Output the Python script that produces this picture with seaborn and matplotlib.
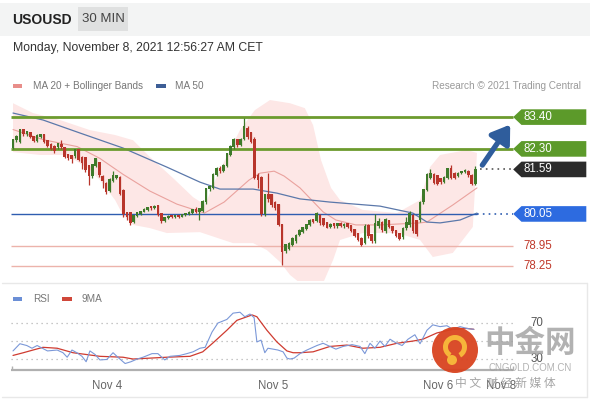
import numpy as np
import pandas as pd
import seaborn as sns
import matplotlib.pyplot as plt
from matplotlib.patches import Polygon, Circle, Wedge, Rectangle

# 30 min candles, oldest first
opens = [82.33, 82.60, 82.55, 82.95, 82.80, 82.85, 82.72, 82.58, 82.72, 82.78,
         82.58, 82.45, 82.38, 82.35, 82.45, 82.32, 82.10, 82.05, 82.05, 82.25,
         82.00, 82.00, 81.70, 81.35, 81.72, 81.80, 81.32, 81.10, 80.85, 81.20,
         81.30, 81.30, 80.85, 80.08, 80.08, 79.78, 79.98, 80.05, 80.12, 80.18,
         80.28, 80.24, 80.32, 80.05, 79.82, 79.90, 79.98, 79.94, 80.00, 79.96,
         80.00, 80.04, 80.08, 80.20, 80.12, 80.15, 80.45, 80.90, 80.95, 81.38,
         81.62, 81.55, 81.72, 82.10, 82.35, 82.60, 82.42, 82.65, 83.00, 82.85,
         82.62, 81.35, 81.30, 80.05, 80.70, 80.70, 80.45, 80.36, 79.67, 78.78,
         78.85, 78.98, 79.10, 79.32, 79.42, 79.52, 79.66, 79.84, 79.80, 80.00,
         79.88, 79.74, 79.60, 79.70, 79.62, 79.72, 79.62, 79.70, 79.62, 79.50,
         79.35, 79.20, 79.05, 79.65, 79.32, 79.10, 79.62, 79.75, 79.45, 79.80,
         79.60, 79.46, 79.35, 79.25, 79.55, 79.65, 80.00, 79.80, 79.84, 80.45,
         80.88, 81.30, 81.40, 81.35, 81.25, 81.15, 81.30, 81.60, 81.45, 81.35,
         81.45, 81.50, 81.52, 81.38, 81.10]
highs = [82.65, 82.78, 83.00, 82.98, 82.92, 82.88, 82.76, 82.80, 82.82, 82.82,
         82.62, 82.50, 82.45, 82.52, 82.62, 82.38, 82.12, 82.08, 82.30, 82.28,
         82.05, 82.02, 81.72, 81.78, 82.00, 81.85, 81.38, 81.15, 81.28, 81.52,
         81.40, 81.35, 80.90, 80.12, 80.12, 80.02, 80.12, 80.15, 80.24, 80.30,
         80.32, 80.36, 80.35, 80.08, 79.95, 80.00, 80.02, 80.03, 80.03, 80.05,
         80.08, 80.14, 80.22, 80.30, 80.26, 80.52, 80.96, 81.05, 81.45, 81.68,
         81.70, 81.78, 82.16, 82.42, 82.66, 82.64, 82.68, 83.38, 83.10, 82.90,
         82.70, 81.45, 81.35, 80.75, 81.46, 80.75, 80.50, 80.40, 79.70, 79.02,
         79.08, 79.24, 79.35, 79.52, 79.60, 79.70, 79.86, 79.88, 80.10, 80.04,
         79.92, 79.78, 79.72, 79.74, 79.74, 79.76, 79.72, 79.74, 79.66, 79.54,
         79.38, 79.24, 79.70, 79.70, 79.36, 80.05, 79.92, 79.80, 79.90, 79.84,
         79.64, 79.50, 79.40, 79.60, 79.95, 80.15, 80.05, 79.85, 80.50, 80.92,
         81.45, 81.60, 81.45, 81.40, 81.30, 81.35, 81.64, 81.75, 81.50, 81.50,
         81.54, 81.60, 81.56, 81.42, 81.70]
lows = [82.28, 82.55, 82.50, 82.75, 82.76, 82.66, 82.55, 82.55, 82.68, 82.52,
        82.36, 82.25, 82.15, 82.30, 82.30, 81.98, 81.92, 81.80, 82.00, 81.88,
        81.62, 81.50, 81.05, 81.30, 81.68, 81.32, 80.95, 80.75, 80.80, 81.15,
        81.25, 80.70, 79.95, 79.85, 79.65, 79.75, 79.95, 80.02, 80.10, 80.15,
        80.20, 80.22, 79.98, 79.75, 79.78, 79.86, 79.90, 79.90, 79.92, 79.93,
        79.97, 80.01, 80.05, 80.08, 79.85, 80.12, 80.40, 80.85, 80.92, 81.35,
        81.48, 81.50, 81.68, 82.05, 82.30, 82.38, 82.40, 82.60, 82.65, 82.50,
        81.25, 80.95, 79.98, 79.98, 80.48, 80.30, 80.20, 79.62, 78.28, 78.70,
        78.80, 78.95, 79.05, 79.28, 79.38, 79.48, 79.62, 79.74, 79.76, 79.68,
        79.62, 79.55, 79.56, 79.58, 79.58, 79.60, 79.58, 79.56, 79.42, 79.26,
        79.10, 78.94, 79.00, 79.22, 79.05, 79.05, 79.58, 79.44, 79.40, 79.56,
        79.40, 79.26, 79.15, 79.20, 79.50, 79.60, 79.40, 79.30, 79.78, 80.40,
        80.85, 81.25, 81.08, 81.05, 81.10, 81.12, 81.26, 81.26, 81.26, 81.32,
        81.42, 81.46, 81.34, 81.05, 81.05]
closes = [82.60, 82.72, 82.95, 82.80, 82.88, 82.70, 82.58, 82.75, 82.78, 82.55,
          82.40, 82.28, 82.22, 82.48, 82.35, 82.02, 81.98, 81.96, 82.25, 81.92,
          81.82, 81.58, 81.35, 81.75, 81.95, 81.38, 81.20, 80.80, 81.22, 81.38,
          81.35, 80.75, 80.05, 79.95, 79.72, 79.98, 80.08, 80.12, 80.20, 80.26,
          80.24, 80.30, 80.02, 79.80, 79.92, 79.96, 79.93, 79.99, 79.95, 80.02,
          80.05, 80.10, 80.18, 80.12, 80.22, 80.48, 80.92, 80.98, 81.40, 81.62,
          81.55, 81.72, 82.12, 82.38, 82.62, 82.42, 82.62, 83.05, 82.72, 82.55,
          81.30, 81.22, 80.05, 80.70, 80.55, 80.36, 80.25, 79.67, 78.75, 78.98,
          79.02, 79.20, 79.30, 79.48, 79.56, 79.66, 79.82, 79.78, 80.05, 79.72,
          79.66, 79.58, 79.68, 79.62, 79.70, 79.64, 79.68, 79.60, 79.45, 79.30,
          79.15, 78.98, 79.60, 79.28, 79.10, 79.70, 79.78, 79.48, 79.85, 79.60,
          79.45, 79.30, 79.20, 79.55, 79.75, 80.05, 79.45, 79.35, 80.45, 80.88,
          81.40, 81.45, 81.12, 81.10, 81.15, 81.30, 81.60, 81.30, 81.30, 81.45,
          81.50, 81.55, 81.38, 81.10, 81.59]

# overlays (x = candle index)
ma20_x = [0, 8.7, 18.6, 25.2, 31.9, 39.7, 47.5, 55.5, 61.2, 68.4, 71.6, 75.7,
          78.6, 83.2, 89.9, 93.6, 99.4, 106.4, 118, 120, 127.5, 134.5]
ma20_val = [82.97, 82.62, 82.38, 81.97, 81.42, 80.84, 80.39, 80.08, 80.46, 81.22,
            81.46, 81.53, 81.36, 80.95, 80.12, 79.84, 79.67, 79.67, 79.74, 79.77,
            80.36, 80.95]
ma50_x = [0, 8.7, 19.4, 31.9, 44.6, 54.2, 60, 69.6, 76.5, 83.2, 91.9, 106.4,
          115.9, 120, 123.8, 129.6, 134.5]
ma50_val = [83.54, 83.30, 82.85, 82.33, 81.67, 81.15, 80.91, 80.91, 80.77, 80.57,
            80.46, 80.32, 80.08, 79.77, 79.74, 79.84, 80.08]
bbu_x = [0, 5.8, 13.6, 22.3, 29.6, 34.8, 39.7, 46.4, 52.2, 55.7, 58, 61.4, 65.8,
         70.1, 74.5, 80.3, 84.6, 87, 89.3, 92.2, 94.8, 101.4, 111.3, 118, 120.9,
         123.8, 131.6, 134.5]
bbu_val = [83.88, 83.54, 83.30, 82.95, 82.78, 82.60, 82.02, 81.29, 80.63, 80.36,
           81.05, 81.91, 82.95, 83.64, 83.99, 83.88, 83.71, 83.12, 81.91, 80.95,
           80.53, 80.19, 80.08, 80.53, 81.67, 82.09, 82.26, 82.16]
bbl_x = [0, 7.8, 15.7, 22.3, 25.2, 29.6, 31.9, 34.8, 39.7, 44.6, 54.2, 63.8, 69.6,
         73.6, 77.4, 80.3, 83.2, 89.9, 92.8, 94.8, 101.4, 111.3, 118, 121.7, 127.5,
         133.3]
bbl_val = [82.19, 82.09, 82.09, 81.57, 81.22, 80.53, 80.01, 79.67, 79.56, 79.39,
           79.42, 79.04, 79.04, 78.80, 78.39, 77.94, 77.66, 77.66, 78.46, 79.15,
           79.39, 79.39, 79.15, 78.56, 78.70, 79.60]

# RSI panel
rsi_x = [0, 2, 4, 5.5, 7, 8.5, 10, 12.8, 14.5, 15.7, 17.1, 18.5, 20, 21.2, 22.3,
         23.8, 25.2, 27.2, 29, 30.4, 32.5, 34.2, 36, 37.7, 40.3, 42, 44, 45.5,
         48.4, 50.4, 52.2, 54.2, 55.7, 57.7, 59.4, 62, 63.8, 65.8, 67.2, 68.7,
         69.9, 70.7, 71.9, 73, 73.9, 75.4, 76.8, 78.3, 79.4, 80.3, 81.5, 83.2,
         85.2, 88.1, 89.9, 91.9, 93.6, 95.7, 98.3, 100.6, 102, 103.5, 104.9,
         106.4, 107.8, 109.3, 111, 112.8, 114.5, 116.5, 118, 120, 121.7, 123.8,
         125.8, 127.5, 129.6, 131.6, 133.6]
rsi_val = [39, 47, 45, 42, 45, 42, 39, 40, 37, 32, 40, 37, 33, 27, 39, 35, 29,
           29.5, 37, 32, 25, 27, 30, 32, 36, 36, 29, 33, 34, 36, 38, 42, 43, 60,
           70, 74, 81, 82, 77, 80, 76, 49, 51, 37, 42, 41, 40, 38, 31, 30, 31, 36,
           40, 45, 47.5, 44, 41, 44, 46, 44, 36, 47.5, 42, 50, 44, 52, 48, 45, 52,
           57, 47, 62, 68, 66, 67, 63, 66, 64, 63]
ma9_x = [0, 3, 5.8, 8.7, 12.8, 17.4, 25.2, 31.9, 34.8, 39.7, 44.6, 51.3, 55, 58,
         62, 64.9, 69.3, 70.7, 73.6, 76.5, 79.4, 81.2, 83.2, 87, 91.9, 96.8,
         101.4, 106.4, 111.3, 116, 118.8, 122.9, 127.5, 131.6, 133.6]
ma9_val = [34, 37, 40, 43, 42, 37, 33, 32, 30, 31, 32, 33, 38, 48, 62, 73, 79, 77,
           62, 49, 39, 37, 37, 38, 44, 45.5, 42, 43, 47.5, 50, 52, 59, 63, 64, 63]

tick_pos = [27.2, 75.4, 123.2, 141.5]
tick_labels = ["Nov 4", "Nov 5", "Nov 6", "Nov 8"]

resist = [83.40, 82.30]
support = [78.95, 78.25]
pivot = 80.05
last = closes[-1]

sns.set_theme(style="white")
plt.rcParams['font.family'] = ['Liberation Sans', 'Noto Sans CJK SC', 'DejaVu Sans']

W, H = 590, 400
fig = plt.figure(figsize=(W / 100, H / 100), dpi=100)
fig.patch.set_facecolor('white')

def px_rect(x0, y0, x1, y1):
    return [x0 / W, 1 - y1 / H, (x1 - x0) / W, (y1 - y0) / H]

# background layer (header, card lines, legend)
bg = fig.add_axes([0, 0, 1, 1], zorder=0)
bg.set_xlim(0, W)
bg.set_ylim(H, 0)
bg.axis('off')
bg.add_patch(Rectangle((0, 3), W, 33, color='#f3f4f4', lw=0))
bg.add_patch(Rectangle((78, 7), 50, 24, color='#dfe0e0', lw=0))
bg.text(12, 19.5, "USOUSD", fontsize=10, fontweight='bold', color='#222', va='center')
bg.text(103, 19.5, "30 MIN", fontsize=9.5, color='#444', va='center', ha='center')
bg.text(13, 48, "Monday, November 8, 2021 12:56:27 AM CET", fontsize=8.8, color='#333', va='center')
bg.add_patch(Rectangle((13, 84), 9, 4, color='#e88e8a', lw=0))
bg.text(33, 86, "MA 20 + Bollinger Bands", fontsize=7.2, color='#777', va='center')
bg.add_patch(Rectangle((156, 84), 10, 4, color='#3d5e96', lw=0))
bg.text(175, 86, "MA 50", fontsize=7.2, color='#777', va='center')
bg.text(581, 86, "Research © 2021 Trading Central", fontsize=7.2, color='#9a9a9a',
        va='center', ha='right')
bg.add_patch(Rectangle((13, 297), 9, 4, color='#6b8fd6', lw=0))
bg.text(33, 299, "RSI", fontsize=7.2, color='#777', va='center')
bg.add_patch(Rectangle((62, 297), 10, 4, color='#d0473a', lw=0))
bg.text(82, 299, "9MA", fontsize=7.2, color='#777', va='center')
bg.plot([2, 587], [283, 283], color='#e8e8e8', lw=1)
bg.plot([2, 587], [397, 397], color='#e8e8e8', lw=1)
bg.plot([587, 587], [283, 397], color='#e8e8e8', lw=1)

# main price panel
ax = fig.add_axes(px_rect(11, 96, 587, 281), zorder=2)
ax.patch.set_alpha(0)
xi = np.arange(len(closes))
x0, x1 = -0.58, 166.4
ax.set_xlim(x0, x1)
ax.set_ylim(77.73, 84.13)
ax.axis('off')

ax.fill(np.r_[bbu_x, bbl_x[::-1]], np.r_[bbu_val, bbl_val[::-1]],
        color='#fde7e6', lw=0, zorder=1)
sns.lineplot(x=ma20_x, y=ma20_val, ax=ax, color='#eaa29e', lw=0.8, sort=False, zorder=2)
sns.lineplot(x=ma50_x, y=ma50_val, ax=ax, color='#5b78aa', lw=0.9, sort=False, zorder=2)

line_end = 145.0
ax.hlines(resist, x0, line_end, color='#6c9b2e', lw=2, zorder=3)
ax.hlines(support, x0, line_end, color='#ecb3ab', lw=1, zorder=3)
ax.hlines(pivot, x0, ma50_x[-1], color='#2f5db0', lw=1, zorder=3)
ax.hlines(pivot, ma50_x[-1], line_end, color='#2f5db0', lw=1.2, linestyles=(0, (1, 2.5)), zorder=3)
ax.hlines(last, len(closes) + 0.5, line_end, color='#555', lw=1.2, linestyles=(0, (1, 2.5)), zorder=3)

# candles
opens_a, closes_a = np.array(opens), np.array(closes)
up = closes_a >= opens_a
col = np.where(up, '#3e7a2a', '#b8352b')
ax.vlines(xi, lows, highs, color=col, lw=0.9, zorder=4)
ax.bar(xi, np.abs(closes_a - opens_a) + 0.03, bottom=np.minimum(opens_a, closes_a),
       width=0.75, color=col, lw=0, zorder=5)

# price boxes
hh = 0.27
def tag(level, face):
    pts = [(line_end, level), (147.4, level + hh), (166.2, level + hh),
           (166.2, level - hh), (147.4, level - hh)]
    ax.add_patch(Polygon(pts, closed=True, color=face, lw=0, zorder=6))
    ax.text(148.0, level, f"{level:.2f}", color='white', fontsize=8.3, va='center', zorder=7)

for lv in resist:
    tag(lv, '#5c9a2a')
tag(last, '#2b2b2b')
tag(pivot, '#2d6be0')
for lv in support:
    ax.text(148.0, lv, f"{lv:.2f}", color='#c0392b', fontsize=8.3, va='center', zorder=7)

ax.annotate("", xy=(144.6, 83.22), xytext=(135.6, 81.66),
            arrowprops=dict(arrowstyle='-|>,head_width=0.5,head_length=0.75',
                            color='#2f5d9c', lw=3.8, mutation_scale=14), zorder=8)

# RSI panel
ax2 = fig.add_axes(px_rect(11, 300, 587, 370), zorder=2)
ax2.patch.set_alpha(0)
ax2.set_xlim(x0, x1)
ax2.set_ylim(17.8, 95.6)
for s in ax2.spines.values():
    s.set_visible(False)
ax2.set_yticks([])
ax2.hlines([70, 50, 30], x0, line_end, color='#b5b5b5', lw=0.9, linestyles=(0, (1, 3)))
ax2.hlines(17.8, x0, line_end, color='#b0b0b0', lw=1.6, clip_on=False)
ax2.vlines([x0 + 0.2, line_end], 17.8, 22, color='#b0b0b0', lw=1, clip_on=False)
sns.lineplot(x=ma9_x, y=ma9_val, ax=ax2, color='#cf3b30', lw=0.9, sort=False)
sns.lineplot(x=rsi_x, y=rsi_val, ax=ax2, color='#7b98d8', lw=0.8, sort=False)
ax2.text(150, 70, "70", color='#555', fontsize=8.3, va='center')
ax2.text(150, 30, "30", color='#555', fontsize=8.3, va='center')
ax2.set_xticks(tick_pos)
ax2.set_xticklabels(tick_labels)
ax2.tick_params(axis='x', length=0, pad=7, labelsize=8.3, labelcolor='#666')
ax2.set_xlabel("")
ax2.set_ylabel("")

# watermark
fg = fig.add_axes([0, 0, 1, 1], zorder=10)
fg.set_xlim(0, W)
fg.set_ylim(H, 0)
fg.axis('off')
fg.add_patch(Circle((455, 350), 23, color='#d8431f', alpha=0.95, lw=0))
fg.add_patch(Wedge((455, 347), 12, 120, 420, width=5, color='#f6b53a', lw=0))
fg.add_patch(Circle((452, 360), 5, color='#f6b53a', lw=0))
fg.text(530, 343, "中金网", fontsize=22, fontweight='bold', color='#9f9f9f', alpha=0.8,
        ha='center', va='center', family=['Noto Sans CJK SC', 'DejaVu Sans'])
fg.text(530, 368, "CNGOLD.COM.CN", fontsize=7, color='#9f9f9f', alpha=0.8, ha='center', va='center')
fg.text(505, 383, "中 文  财 经 新 媒 体", fontsize=8.5, color='#8f8f8f', alpha=0.8,
        ha='center', va='center', family=['Noto Sans CJK SC', 'DejaVu Sans'])

fig.savefig("out.png", dpi=100)
